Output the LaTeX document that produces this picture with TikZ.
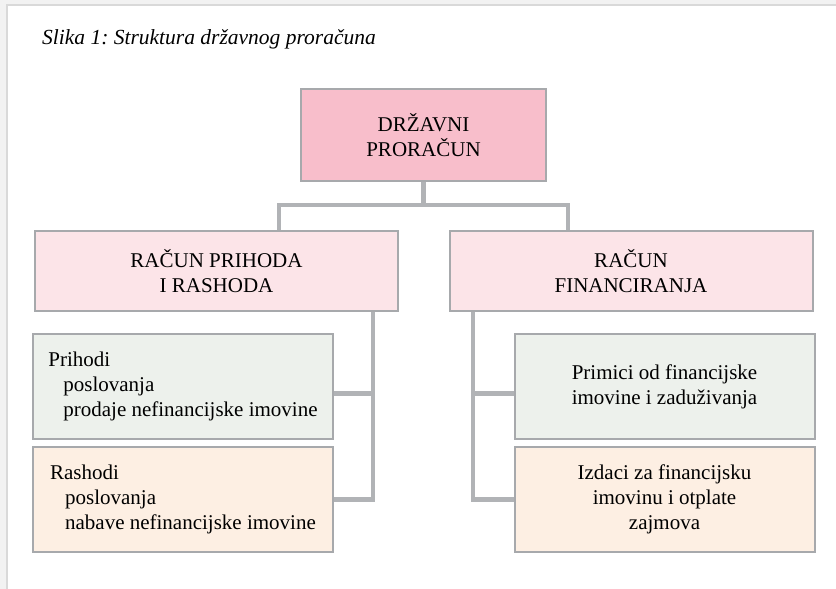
\documentclass[tikz,border=0pt]{standalone}
\usepackage{fontspec}
\setmainfont{Liberation Serif}
\usetikzlibrary{positioning}

\definecolor{rimgray}{HTML}{A7A9AC}
\definecolor{linkgray}{HTML}{B1B3B6}
\definecolor{rootpink}{HTML}{F8BECB}
\definecolor{accpink}{HTML}{FCE4E8}
\definecolor{incgreen}{HTML}{EDF1EC}
\definecolor{expbeige}{HTML}{FDEFE3}

\tikzstyle{box} = [draw=rimgray, line width=2pt, rectangle, font={\fontsize{21pt}{25pt}\selectfont}]
\tikzstyle{root} = [box, fill=rootpink, minimum width=245pt, minimum height=92pt, align=center]
\tikzstyle{account} = [box, fill=accpink, minimum width=363pt, minimum height=80pt, align=center]
\tikzstyle{income} = [box, fill=incgreen, minimum width=300pt, minimum height=105pt]
\tikzstyle{expense} = [box, fill=expbeige, minimum width=300pt, minimum height=105pt]
\tikzstyle{link} = [draw=linkgray, line width=4.5pt]

\frenchspacing
\begin{document}
\begin{tikzpicture}[node distance=1cm, on grid]
  \useasboundingbox (0,0) rectangle (836pt,-589pt);
  % page edge
  \fill [black!5] (0,0) rectangle (836pt,-6pt);
  \fill [black!5] (0,0) rectangle (6pt,-589pt);
  \draw [black!15, line width=1.5pt] (7pt,-589pt) -- (7pt,-5pt) -- (836pt,-5pt);

  \node [anchor=base west, inner sep=0pt, font={\fontsize{21.5pt}{25pt}\selectfont\itshape}] (caption) at (42pt,-45pt) {Slika 1: Struktura državnog proračuna};

  \node [root] (budget) at (423.5pt,-135pt) {DRŽAVNI\\PRORAČUN};
  \node [account, below left=136pt and 207pt of budget] (revacc) {RAČUN PRIHODA\\I RASHODA};
  \node [account, below right=136pt and 207.5pt of budget] (finacc) {RAČUN\\FINANCIRANJA};

  \node [income, align=left, below left=115.5pt and 33.5pt of revacc] (rev) {Prihodi\\\hspace*{15pt}poslovanja\\\hspace*{15pt}prodaje nefinancijske imovine};
  \node [expense, align=left, below=113pt of rev] (exp) {Rashodi\\\hspace*{15pt}poslovanja\\\hspace*{15pt}nabave nefinancijske imovine};
  \node [income, align=center, below right=115.5pt and 33.5pt of finacc] (recv) {Primici od financijske\\imovine i zaduživanja};
  \node [expense, align=center, below=113pt of recv] (outl) {Izdaci za financijsku\\imovinu i otplate\\zajmova};

  \coordinate [below=23pt of budget.south] (split);
  \coordinate [right=62.5pt of revacc.north] (revtop);
  \coordinate [left=63pt of finacc.north] (fintop);
  \coordinate [right=156.5pt of revacc.south] (revbus);
  \coordinate [left=158pt of finacc.south] (finbus);

  \draw [link] (budget) -- (split);
  \draw [link] (revtop) |- (split) -| (fintop);
  \draw [link] (revbus) |- (exp.east);
  \draw [link] ([yshift=-7pt]rev.east) -| (revbus);
  \draw [link] (finbus) |- (outl.west);
  \draw [link] ([yshift=-7pt]recv.west) -| (finbus);
\end{tikzpicture}
\end{document}
